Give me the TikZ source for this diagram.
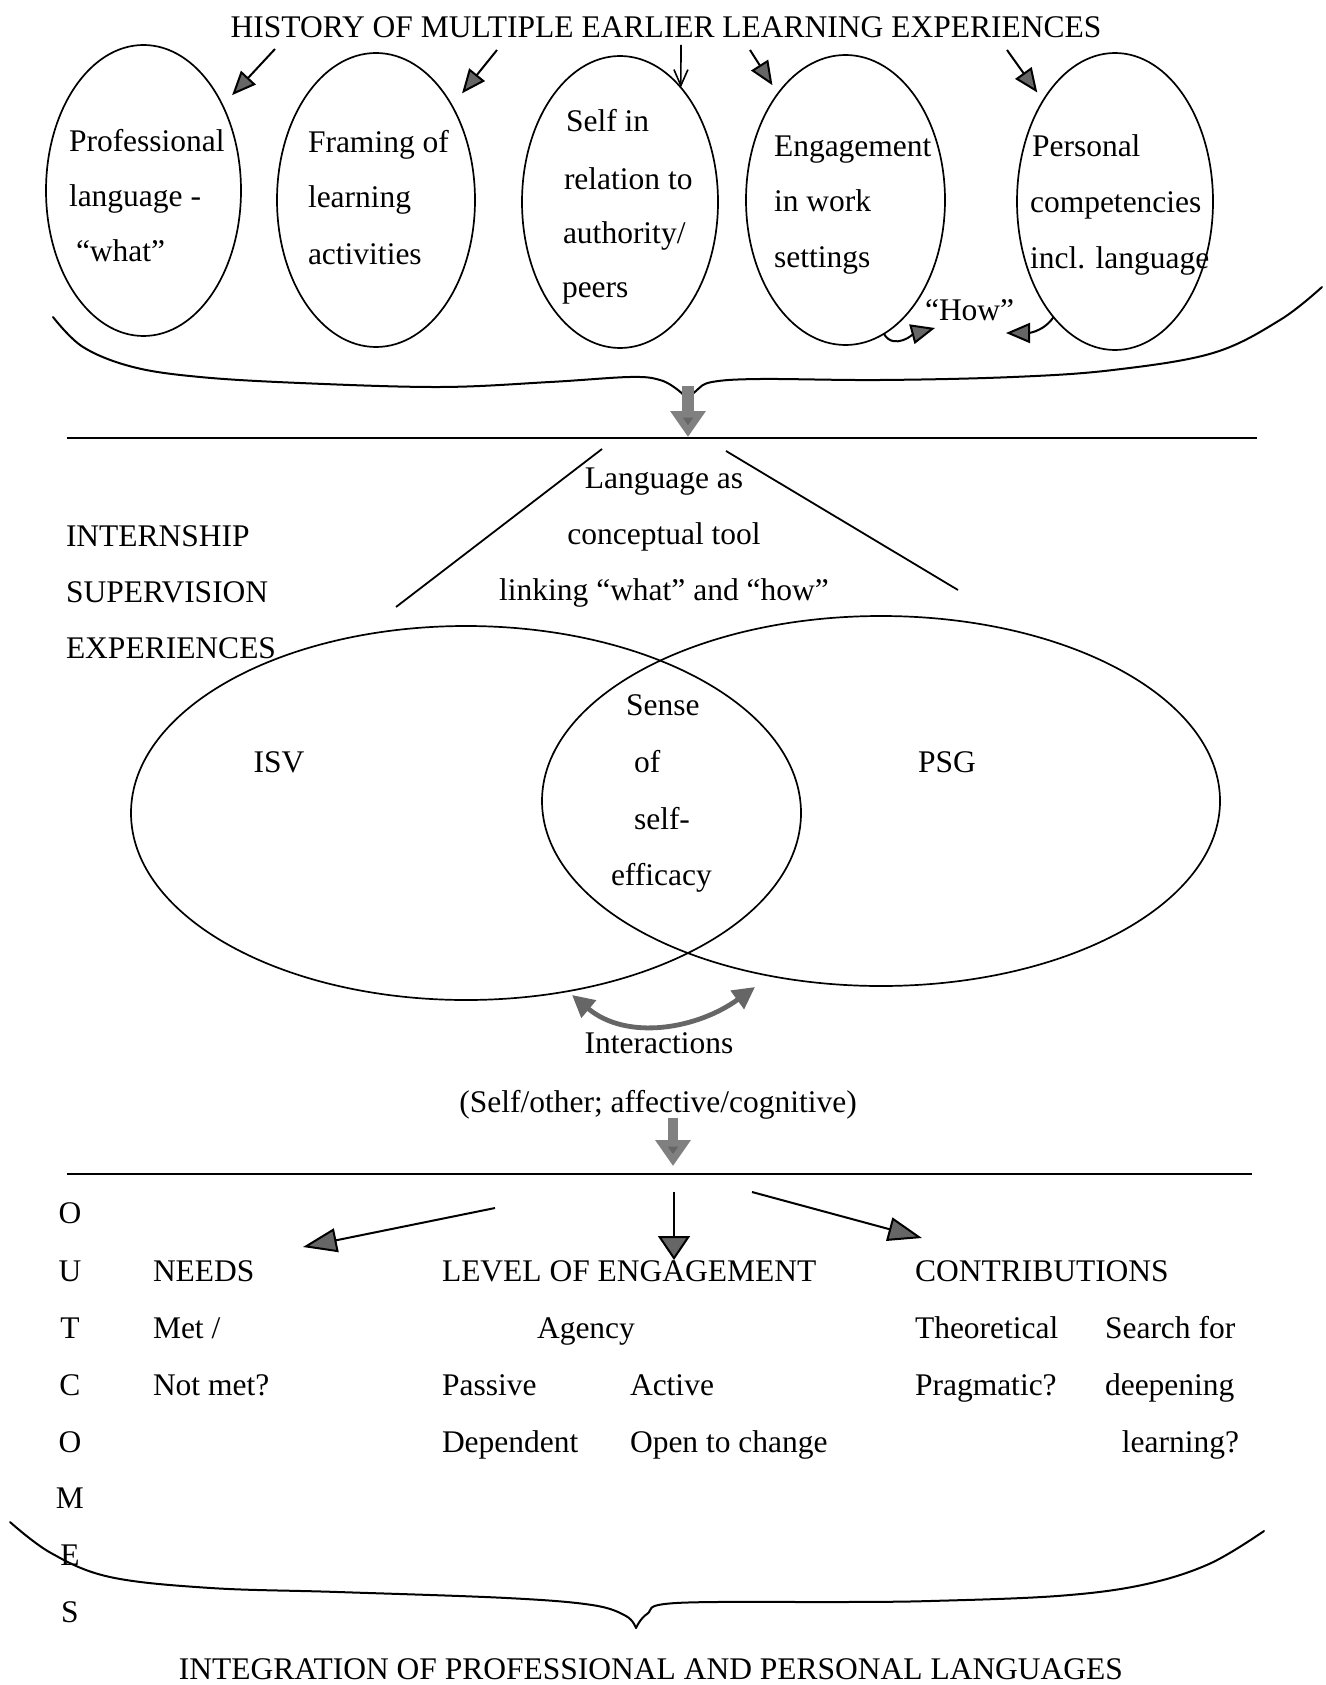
\documentclass[tikz,border=0pt]{standalone}
\usepackage{fontspec}
\setmainfont{Liberation Serif}
\usetikzlibrary{shapes.geometric,arrows.meta}
\begin{document}
\begin{tikzpicture}[x=0.5pt,y=-0.5pt,
  every node/.style={inner sep=0pt,outer sep=0pt},
  lbl/.style={font=\fontsize{15.75pt}{19pt}\selectfont,anchor=base west},
  lblc/.style={lbl,anchor=base},
  lble/.style={lbl,anchor=base east},
  oval/.style={draw,ellipse,line width=0.85pt},
  rule/.style={line width=0.9pt},
  brace/.style={line width=1pt,line join=round,line cap=round},
  harrow/.style={line width=1pt,-{Triangle[length=12pt,width=10pt,fill=black!60]}},
  bigharrow/.style={line width=1pt,-{Triangle[length=17pt,width=12pt,fill=black!60]}},
  thinarrow/.style={line width=0.8pt,-{Straight Barb[length=8pt,width=7pt]}},
  blockarrow/.style={line width=6pt,draw=black!50,-{Triangle[length=13pt,width=17pt,fill=black!60]}},
  interarrow/.style={line width=2.4pt,draw=black!60,{Triangle[length=11pt,width=11pt,fill=black!60]}-{Triangle[length=11pt,width=11pt,fill=black!60]}}
]
\useasboundingbox (0,0) rectangle (1326,1685);

% ---------- upper band: earlier learning experiences ----------
\node[lblc] (title) at (666,38) {HISTORY OF MULTIPLE EARLIER LEARNING EXPERIENCES};

\node[oval,minimum width=97.5pt,minimum height=145.5pt] (e1) at (143.5,190.5) {};
\node[oval,minimum width=99pt,minimum height=147pt] (e2) at (376,200) {};
\node[oval,minimum width=98pt,minimum height=146pt] (e3) at (620,202) {};
\node[oval,minimum width=99.5pt,minimum height=145pt] (e4) at (845.5,200) {};
\node[oval,minimum width=98pt,minimum height=148.5pt] (e5) at (1115,201.5) {};

\node[lbl] (e1a) at (69,152) {Professional};
\node[lbl] (e1b) at (69,207) {language -};
\node[lbl] (e1c) at (76,262) {“what”};

\node[lbl] (e2a) at (308,153) {Framing of};
\node[lbl] (e2b) at (308,208) {learning};
\node[lbl] (e2c) at (308,264) {activities};

\node[lbl] (e3a) at (566,132) {Self in};
\node[lbl] (e3b) at (564,190) {relation to};
\node[lbl] (e3c) at (563,243) {authority/};
\node[lbl] (e3d) at (562,297) {peers};

\node[lbl] (e4a) at (774,157) {Engagement};
\node[lbl] (e4b) at (774,212) {in work};
\node[lbl] (e4c) at (774,267) {settings};

\node[lbl] (e5a) at (1032,157) {Personal};
\node[lbl] (e5b) at (1030,213) {competencies};
\node[lbl] (e5c) at (1030,268) {incl. language};

\node[lbl] (how) at (925,320) {“How”};

% arrows from the heading into each experience
\coordinate (a1t) at (275,49);
\coordinate (a2t) at (497,50);
\coordinate (a3t) at (681,45);
\coordinate (a4t) at (750,50);
\coordinate (a5t) at (1007,50);
\draw[harrow,shorten >=7pt] (a1t) -- (e1);
\draw[harrow,shorten >=8pt] (a2t) -- (e2);
\draw[thinarrow] (a3t) -- (e3.62);
\draw[harrow,shorten >=5pt] (a4t) -- (e4);
\draw[harrow,shorten >=5pt] (a5t) -- (e5);

% the two "How" arrows
\coordinate (how1) at (935,328);
\coordinate (how2) at (1006,333);
\draw[harrow] (e4.-74) to[out=-60,in=195] (how1);
\draw[harrow] (e5.-118) to[out=-125,in=0] (how2);

% gathering brace
\draw[brace] plot[smooth,tension=0.6] coordinates {(53,317) (83,347) (133,367) (200,377) (300,383) (440,387) (550,382) (630,377) (660,380) (678,390) (688,400)};
\draw[brace] plot[smooth,tension=0.6] coordinates {(688,400) (697,390) (712,382) (760,379) (880,380) (1013,377) (1113,370) (1213,353) (1280,320) (1322,287)};

\coordinate (bk1t) at (688,386);
\coordinate (bk1h) at (688,437);
\draw[blockarrow] (bk1t) -- (bk1h);

\coordinate (r1a) at (67,438);
\coordinate (r1b) at (1257,438);
\draw[rule] (r1a) -- (r1b);

% ---------- middle band: internship supervision ----------
\node[lblc] (lang1) at (664,488) {Language as};
\node[lblc] (lang2) at (664,544) {conceptual tool};
\node[lblc] (lang3) at (664,600) {linking “what” and “how”};

\coordinate (t1a) at (602,449);
\coordinate (t1b) at (396,607);
\coordinate (t2a) at (726,451);
\coordinate (t2b) at (958,590);
\draw[line width=0.9pt] (t1a) -- (t1b);
\draw[line width=0.9pt] (t2a) -- (t2b);

\node[lbl] (isx1) at (66,546) {INTERNSHIP};
\node[lbl] (isx2) at (66,602) {SUPERVISION};
\node[lbl] (isx3) at (66,658) {EXPERIENCES};

\node[oval,minimum width=335pt,minimum height=187pt] (isv) at (466,813) {};
\node[oval,minimum width=339pt,minimum height=185pt] (psg) at (881,801) {};

\node[lblc] (isvl) at (279,772) {ISV};
\node[lblc] (psgl) at (947,772) {PSG};

\node[lbl] (se1) at (626,715) {Sense};
\node[lbl] (se2) at (634,772) {of};
\node[lbl] (se3) at (634,829) {self-};
\node[lbl] (se4) at (611,885) {efficacy};

\coordinate (ia) at (572,995);
\coordinate (ib) at (755,987);
\draw[interarrow] (ia) to[out=-40,in=-144] (ib);

\node[lblc] (inter) at (659,1053) {Interactions};
\node[lblc] (inter2) at (658,1112) {(Self/other; affective/cognitive)};

\coordinate (bk2t) at (673,1118);
\coordinate (bk2h) at (673,1166);
\draw[blockarrow,line width=5pt] (bk2t) -- (bk2h);

\coordinate (r2a) at (67,1174);
\coordinate (r2b) at (1252,1174);
\draw[rule] (r2a) -- (r2b);

% ---------- lower band: outcomes ----------
\coordinate (b1t) at (495,1208);
\coordinate (b1h) at (303,1247);
\coordinate (b2t) at (674,1192);
\coordinate (b2h) at (674,1260);
\coordinate (b3t) at (752,1192);
\coordinate (b3h) at (922,1238);
\draw[bigharrow] (b1t) -- (b1h);
\draw[line width=1pt,-{Triangle[length=12pt,width=16pt,fill=black!60]}] (b2t) -- (b2h);
\draw[bigharrow] (b3t) -- (b3h);

\node[lblc] (o1) at (70,1223) {O};
\node[lblc] (o2) at (70,1281) {U};
\node[lblc] (o3) at (70,1338) {T};
\node[lblc] (o4) at (70,1395) {C};
\node[lblc] (o5) at (70,1452) {O};
\node[lblc] (o6) at (70,1508) {M};
\node[lblc] (o7) at (70,1565) {E};
\node[lblc] (o8) at (70,1622) {S};

\node[lbl] (nd1) at (153,1281) {NEEDS};
\node[lbl] (nd2) at (153,1338) {Met /};
\node[lbl] (nd3) at (153,1395) {Not met?};

\node[lbl] (lv1) at (442,1281) {LEVEL OF ENGAGEMENT};
\node[lbl] (lv2) at (537,1338) {Agency};
\node[lbl] (lv3) at (442,1395) {Passive};
\node[lbl] (lv4) at (630,1395) {Active};
\node[lbl] (lv5) at (442,1452) {Dependent};
\node[lbl] (lv6) at (630,1452) {Open to change};

\node[lbl] (ct1) at (915,1281) {CONTRIBUTIONS};
\node[lbl] (ct2) at (915,1338) {Theoretical};
\node[lbl] (ct3) at (915,1395) {Pragmatic?};
\node[lbl] (ct4) at (1105,1338) {Search for};
\node[lbl] (ct5) at (1105,1395) {deepening};
\node[lble] (ct6) at (1239,1452) {learning?};

% closing brace
\draw[brace] plot[smooth,tension=0.6] coordinates {(10,1522) (51,1553) (110,1577) (211,1588) (338,1592) (507,1598) (592,1605) (626,1616) (636,1628)};
\draw[brace] plot[smooth,tension=0.6] coordinates {(636,1628) (647,1614) (676,1603) (846,1602) (930,1601) (1057,1596) (1142,1585) (1209,1564) (1264,1531)};

\node[lblc] (integ) at (651,1679) {INTEGRATION OF PROFESSIONAL AND PERSONAL LANGUAGES};
\end{tikzpicture}
\end{document}
